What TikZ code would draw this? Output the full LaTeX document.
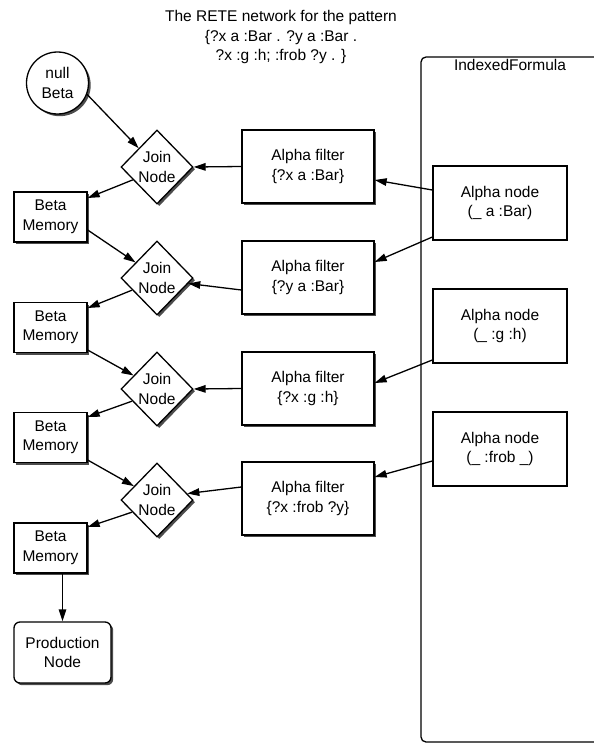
\documentclass[tikz,border=0pt]{standalone}
\usepackage{fontspec}
\setmainfont{Liberation Sans}
\usetikzlibrary{shapes.geometric,shadows,arrows.meta}
\begin{document}
\begin{tikzpicture}[x=1pt,y=-1pt,
  every node/.style={font=\fontsize{15.5}{19.5}\selectfont, align=center},
  base/.style={draw, line width=1.3pt, fill=white, inner sep=0pt},
  shad/.style={drop shadow={shadow xshift=2.2pt, shadow yshift=-2.2pt, fill=black!70, opacity=1}},
  joinnode/.style={base, shad, diamond, minimum width=72pt, minimum height=74pt},
  betamem/.style={base, shad, rectangle, minimum width=73pt, minimum height=50pt},
  alphafilter/.style={base, shad, rectangle, minimum width=132pt, minimum height=73pt},
  alphanode/.style={base, rectangle, minimum width=134pt, minimum height=74pt},
  arr/.style={-{Triangle[length=12pt,width=7.5pt]}, line width=1.3pt},
  container/.style={draw, line width=1.3pt, rounded corners=5pt},
]
\useasboundingbox (0,0) rectangle (594,744);

% title
\node (title) at (281,37) {The RETE network for the pattern\\
  \{?x a :Bar . ?y a :Bar .\\
  ?x :g :h; :frob ?y . \}};

% IndexedFormula container
\draw[container] (594,57) -- (421,57) -- (421,742) -- (594,742);
\node (iflabel) at (510,65) {IndexedFormula};

% beta side
\node[base, shad, circle, minimum size=62pt] (nb) at (57.5,83) {null\\Beta};
\node[joinnode] (j1) at (157,167) {Join\\Node};
\node[joinnode] (j2) at (157,278) {Join\\Node};
\node[joinnode] (j3) at (157,389) {Join\\Node};
\node[joinnode] (j4) at (157,500) {Join\\Node};
\node[betamem] (bm1) at (50.5,217) {Beta\\Memory};
\node[betamem] (bm2) at (50.5,327.5) {Beta\\Memory};
\node[betamem] (bm3) at (50.5,437.5) {Beta\\Memory};
\node[betamem] (bm4) at (50.5,548) {Beta\\Memory};
\node[base, shad, rectangle, rounded corners=6pt, minimum width=97pt, minimum height=61pt] (prod) at (62.5,652.5) {Production\\Node};

% alpha filters
\node[alphafilter] (af1) at (308,166.5) {Alpha filter\\\{?x a :Bar\}};
\node[alphafilter] (af2) at (308,277.5) {Alpha filter\\\{?y a :Bar\}};
\node[alphafilter] (af3) at (308,388.5) {Alpha filter\\\{?x :g :h\}};
\node[alphafilter] (af4) at (308,498.5) {Alpha filter\\\{?x :frob ?y\}};

% alpha nodes
\node[alphanode] (an1) at (500,203) {Alpha node\\(\_ a :Bar)};
\node[alphanode] (an2) at (500,326) {Alpha node\\(\_ :g :h)};
\node[alphanode] (an3) at (500,449) {Alpha node\\(\_ :frob \_)};

% connectors
\draw[arr] (nb.-21) -- (j1.north west);
\draw[arr] (af1.west) -- (j1.east);
\draw[arr] ([yshift=13pt]an1.west) -- ([yshift=-13.5pt]af1.east);
\draw[arr] ([yshift=-34pt]an1.west) -- ([yshift=15.5pt]af2.east);
\draw[arr] ([yshift=-34pt]an2.west) -- ([yshift=5.5pt]af3.east);
\draw[arr] ([yshift=-12pt]an3.west) -- ([yshift=21.5pt]af4.east);

\draw[arr] (j1.208) -- ([yshift=19pt]bm1.east);
\draw[arr] ([yshift=-13pt]bm1.east) -- (j2.144);
\draw[arr] ([yshift=-12.5pt]af2.west) -- (j2.-10);
\draw[arr] (j2.206) -- ([yshift=19.5pt]bm2.east);
\draw[arr] ([yshift=-22.5pt]bm2.east) -- (j3.150);
\draw[arr] (af3.west) -- (j3.east);
\draw[arr] (j3.206) -- ([yshift=20.5pt]bm3.east);
\draw[arr] ([yshift=-22.5pt]bm3.east) -- (j4.149);
\draw[arr] ([yshift=11.5pt]af4.west) -- (j4.12);
\draw[arr] (j4.206) -- ([yshift=21pt]bm4.east);
\draw[arr] (bm4.south -| prod.north) -- (prod.north);
\end{tikzpicture}
\end{document}
